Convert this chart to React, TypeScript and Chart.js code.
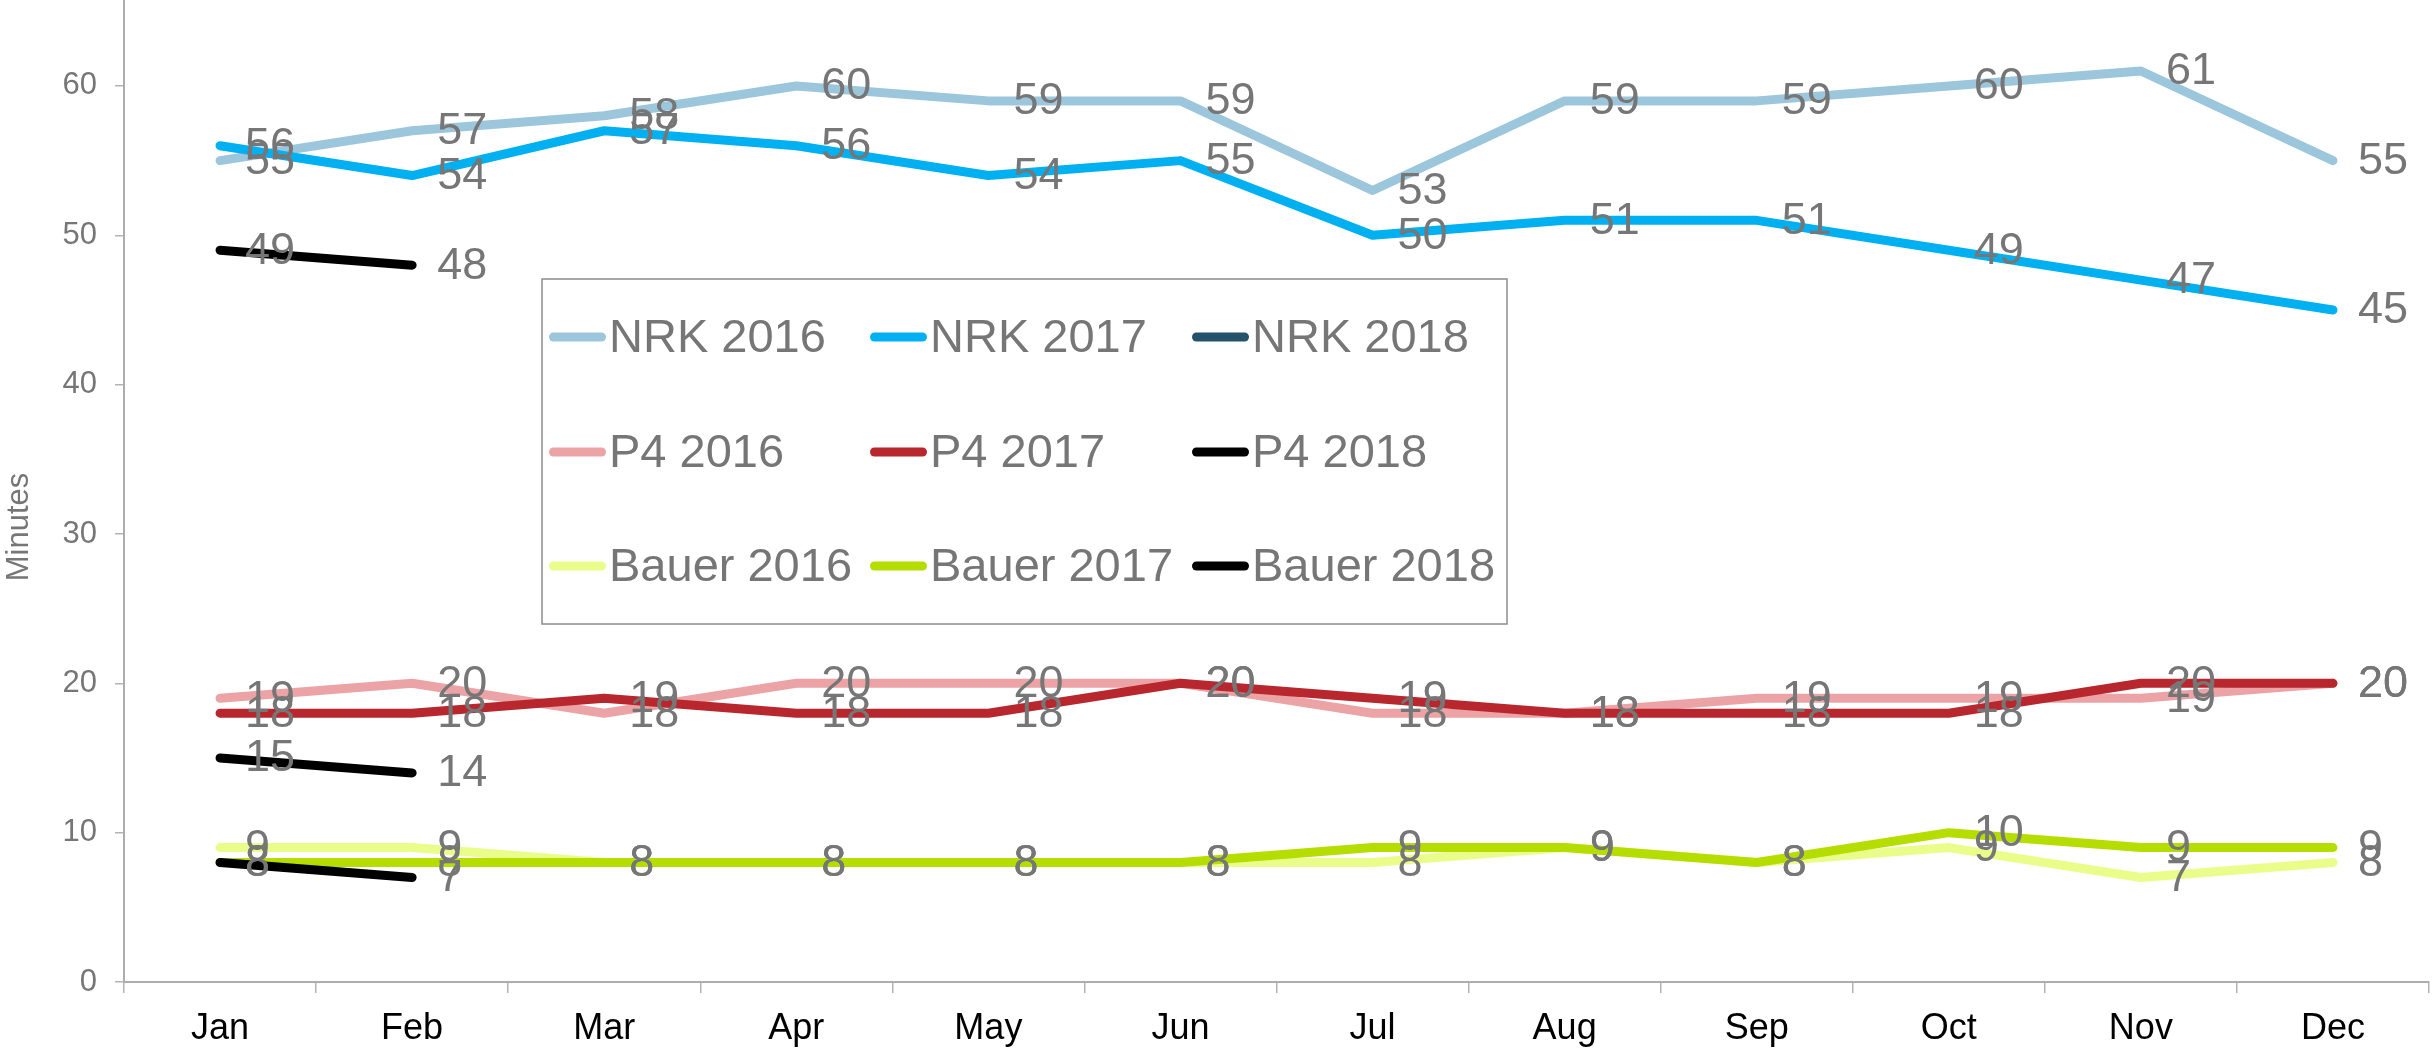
import React, { useEffect, useRef } from "react";
import { Chart, registerables } from "chart.js";

Chart.register(...registerables);

// ---------- data ----------
const months = ["Jan", "Feb", "Mar", "Apr", "May", "Jun", "Jul", "Aug", "Sep", "Oct", "Nov", "Dec"];

const nrk2016 = [55, 57, 58, 60, 59, 59, 53, 59, 59, 60, 61, 55];
const nrk2017 = [56, 54, 57, 56, 54, 55, 50, 51, 51, 49, 47, 45];
const nrk2018 = [49, 48];
const p42016 = [19, 20, 18, 20, 20, 20, 18, 18, 19, 19, 19, 20];
const p42017 = [18, 18, 19, 18, 18, 20, 19, 18, 18, 18, 20, 20];
const p42018 = [15, 14];
const bauer2016 = [9, 9, 8, 8, 8, 8, 8, 9, 8, 9, 7, 8];
const bauer2017 = [8, 8, 8, 8, 8, 8, 9, 9, 8, 10, 9, 9];
const bauer2018 = [8, 7];

const seriesLabels = [
  "NRK 2016", "NRK 2017", "NRK 2018",
  "P4 2016", "P4 2017", "P4 2018",
  "Bauer 2016", "Bauer 2017", "Bauer 2018",
];
const seriesValues = [nrk2016, nrk2017, nrk2018, p42016, p42017, p42018, bauer2016, bauer2017, bauer2018];
const lineColors = ["#9BC6DC", "#00B0F0", "#000000", "#EBA3A6", "#B8262E", "#000000", "#EAFD8B", "#B5DD00", "#000000"];
const legendColors = ["#9BC6DC", "#00B0F0", "#24526B", "#EBA3A6", "#B8262E", "#000000", "#EAFD8B", "#B5DD00", "#000000"];

const yMin = 0;
const yMax = 70;
const yStep = 10;
const yTitle = "Minutes";

// ---------- layout ----------
const W = 2433;
const VIEW_H = 1048;
const SHIFT = 100; // part of the canvas hidden above the view
const H = VIEW_H + SHIFT;
const FONT = '"Liberation Sans", Arial, Helvetica, sans-serif';
const GRAY = "#767676";

const dataLabelsPlugin = {
  id: "dataLabels",
  afterDatasetsDraw(chart: any) {
    const ctx = chart.ctx;
    ctx.save();
    ctx.font = `45px ${FONT}`;
    ctx.fillStyle = GRAY;
    ctx.textAlign = "left";
    ctx.textBaseline = "middle";
    chart.data.datasets.forEach((ds: any, i: number) => {
      const meta = chart.getDatasetMeta(i);
      meta.data.forEach((pt: any, j: number) => {
        const v = ds.data[j];
        if (v === null || v === undefined) return;
        ctx.fillText(String(v), pt.x + 25, pt.y + 1);
      });
    });
    ctx.restore();
  },
};

const legendBoxPlugin = {
  id: "legendBox",
  afterDraw(chart: any) {
    const ctx = chart.ctx;
    const boxL = 542, boxT = 279 + SHIFT, boxR = 1507, boxB = 624 + SHIFT;
    ctx.save();
    ctx.fillStyle = "#FFFFFF";
    ctx.fillRect(boxL, boxT, boxR - boxL, boxB - boxT);
    ctx.strokeStyle = "#8C8C8C";
    ctx.lineWidth = 1.5;
    ctx.strokeRect(boxL, boxT, boxR - boxL, boxB - boxT);
    const colX = [549, 870, 1192];
    const rowY = [337 + SHIFT, 452 + SHIFT, 566 + SHIFT];
    ctx.font = `47px ${FONT}`;
    ctx.textAlign = "left";
    ctx.textBaseline = "middle";
    chart.data.datasets.forEach((ds: any, i: number) => {
      const cx = colX[i % 3];
      const cy = rowY[Math.floor(i / 3)];
      ctx.strokeStyle = legendColors[i];
      ctx.lineWidth = 9;
      ctx.lineCap = "round";
      ctx.beginPath();
      ctx.moveTo(cx + 4.5, cy);
      ctx.lineTo(cx + 52.5, cy);
      ctx.stroke();
      ctx.fillStyle = GRAY;
      ctx.fillText(ds.label, cx + 60, cy + 2);
    });
    ctx.restore();
  },
};

const yTitlePlugin = {
  id: "yTitle",
  afterDraw(chart: any) {
    const ctx = chart.ctx;
    ctx.save();
    ctx.translate(19, 527 + SHIFT);
    ctx.rotate(-Math.PI / 2);
    ctx.font = `31px ${FONT}`;
    ctx.fillStyle = GRAY;
    ctx.textAlign = "center";
    ctx.textBaseline = "middle";
    ctx.fillText(yTitle, 0, 0);
    ctx.restore();
  },
};

export default function App() {
  const canvasRef = useRef<HTMLCanvasElement | null>(null);

  useEffect(() => {
    const canvas = canvasRef.current;
    if (!canvas) return;
    const n = seriesValues.length;
    const chart = new Chart(canvas, {
      type: "line",
      data: {
        labels: months,
        datasets: seriesValues.map((vals, i) => ({
          label: seriesLabels[i],
          data: vals,
          borderColor: lineColors[i],
          backgroundColor: lineColors[i],
          borderWidth: 9,
          pointRadius: 0,
          pointHoverRadius: 0,
          tension: 0,
          fill: false,
          borderCapStyle: "round",
          borderJoinStyle: "round",
          order: n - 1 - i,
        })),
      },
      options: {
        responsive: false,
        maintainAspectRatio: false,
        animation: false,
        events: [],
        layout: { padding: { top: 20, right: 4, left: 0, bottom: 0 } },
        plugins: {
          legend: { display: false },
          tooltip: { enabled: false },
          title: { display: false },
        },
        scales: {
          x: {
            type: "category",
            offset: true,
            grid: {
              offset: true,
              drawOnChartArea: false,
              drawTicks: true,
              tickLength: 11,
              color: "#B3B3B3",
              lineWidth: 1.5,
            },
            border: { display: true, color: "#ADADAD", width: 2 },
            ticks: {
              color: "#000000",
              font: { family: FONT, size: 36 },
              padding: 14,
              maxRotation: 0,
              autoSkip: false,
            },
            afterFit: (s: any) => {
              s.height = 66;
            },
          },
          y: {
            min: yMin,
            max: yMax,
            ticks: {
              stepSize: yStep,
              color: GRAY,
              font: { family: FONT, size: 31 },
              padding: 18,
            },
            grid: {
              drawOnChartArea: false,
              drawTicks: true,
              tickLength: 9,
              color: "#B3B3B3",
              lineWidth: 1.5,
            },
            border: { display: true, color: "#ADADAD", width: 2 },
            afterFit: (s: any) => {
              s.width = 124;
            },
          },
        },
      },
      plugins: [dataLabelsPlugin, legendBoxPlugin, yTitlePlugin],
    } as any);
    return () => chart.destroy();
  }, []);

  return (
    <div
      style={{
        position: "fixed",
        left: 0,
        top: 0,
        width: W,
        height: VIEW_H,
        overflow: "hidden",
        background: "#FFFFFF",
      }}
    >
      <canvas
        ref={canvasRef}
        width={W}
        height={H}
        style={{ position: "absolute", left: 0, top: -SHIFT, width: W, height: H }}
      />
    </div>
  );
}
